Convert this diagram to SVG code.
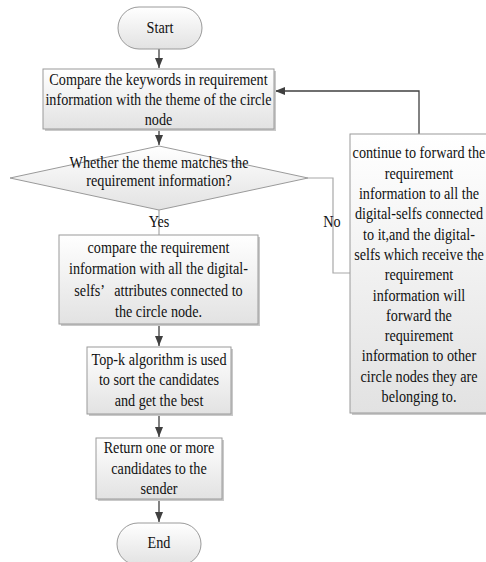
<svg xmlns="http://www.w3.org/2000/svg" width="486" height="562" viewBox="0 0 486 562">
<defs>
<linearGradient id="g" x1="0" y1="0" x2="0" y2="1">
<stop offset="0" stop-color="#ffffff"/>
<stop offset="1" stop-color="#e2e2e2"/>
</linearGradient>
<marker id="ah" markerUnits="userSpaceOnUse" markerWidth="10" markerHeight="10" refX="10" refY="4" orient="auto">
<path d="M0,0 L10,4 L0,8 Z" fill="#404040"/>
</marker>
</defs>
<style>
.box{fill:url(#g);stroke:#9a9a9a;stroke-width:1}
.sh{fill:#c9c9c9}
.t{font-family:"Liberation Serif","Times New Roman",serif;font-size:17px;fill:#111;text-anchor:middle}
.c{fill:none;stroke:#404040;stroke-width:1.3}
.cl{fill:none;stroke:#a8a8a8;stroke-width:1.2}
</style>
<rect width="486" height="562" fill="#ffffff"/>
<g id="connectors">
<path class="c" d="M159,49 V68" marker-end="url(#ah)"/>
<path class="c" d="M159,129 V145" marker-end="url(#ah)"/>
<path class="cl" d="M159,210 V235"/>
<path class="c" d="M159,324 V346" marker-end="url(#ah)"/>
<path class="c" d="M159,414 V437" marker-end="url(#ah)"/>
<path class="c" d="M159,499 V522" marker-end="url(#ah)"/>
<path class="cl" d="M308,178 H333 V273 H350"/>
<path class="c" d="M419,134 V91 H275" marker-end="url(#ah)"/>
</g>
<g id="start">
<rect class="box" x="118" y="7" width="84" height="42" rx="21" ry="21"/>
<text class="t" transform="translate(160 0) scale(0.835 1)" x="0" y="33">Start</text>
</g>
<g id="compare-keywords">
<rect class="sh" x="45" y="71" width="231" height="60"/>
<rect class="box" x="43" y="69" width="231" height="60"/>
<text class="t" transform="translate(158.5 0) scale(0.835 1)"><tspan x="0" y="85">Compare the keywords in requirement</tspan><tspan x="0" y="105">information with the theme of the circle</tspan><tspan x="0" y="125">node</tspan></text>
</g>
<g id="decision">
<polygon class="box" points="10,178 159,146 308,178 159,210"/>
<text class="t" transform="translate(159 0) scale(0.835 1)"><tspan x="0" y="168">Whether the theme matches the</tspan><tspan x="0" y="186.5">requirement information?</tspan></text>
</g>
<g id="label-yes">
<text class="t" transform="translate(159 0) scale(0.835 1)" x="0" y="227">Yes</text>
</g>
<g id="label-no">
<text class="t" transform="translate(332 0) scale(0.835 1)" x="0" y="227">No</text>
</g>
<g id="compare-attributes">
<rect class="sh" x="61" y="237" width="199" height="89"/>
<rect class="box" x="59" y="235" width="199" height="89"/>
<text class="t" transform="translate(158.5 0) scale(0.835 1)"><tspan x="0" y="253">compare the requirement</tspan><tspan x="0" y="274.3">information with all the digital-</tspan><tspan x="0" y="295.6">selfs’ <tspan dx="8">attributes connected to</tspan></tspan><tspan x="0" y="317">the circle node.</tspan></text>
</g>
<g id="topk">
<rect class="sh" x="89" y="349" width="144" height="67"/>
<rect class="box" x="87" y="347" width="144" height="67"/>
<text class="t" transform="translate(159 0) scale(0.835 1)"><tspan x="0" y="365">Top-k algorithm is used</tspan><tspan x="0" y="385.5">to sort the candidates</tspan><tspan x="0" y="406">and get the best</tspan></text>
</g>
<g id="return">
<rect class="sh" x="98" y="440" width="126" height="61"/>
<rect class="box" x="96" y="438" width="126" height="61"/>
<text class="t" transform="translate(159 0) scale(0.835 1)"><tspan x="0" y="453.5">Return one or more</tspan><tspan x="0" y="474">candidates to the</tspan><tspan x="0" y="494.5">sender</tspan></text>
</g>
<g id="end">
<rect class="box" x="117" y="523" width="84" height="42" rx="21" ry="21"/>
<text class="t" transform="translate(159 0) scale(0.835 1)" x="0" y="548">End</text>
</g>
<g id="forward">
<rect class="sh" x="352" y="136" width="138" height="279"/>
<rect class="box" x="350" y="134" width="138" height="279"/>
<text class="t" transform="translate(419 0) scale(0.835 1)"><tspan x="0" y="158.5">continue to forward the</tspan><tspan x="0" y="178.8">requirement</tspan><tspan x="0" y="199.1">information to all the</tspan><tspan x="0" y="219.4">digital-selfs connected</tspan><tspan x="0" y="239.7">to it,and the digital-</tspan><tspan x="0" y="260">selfs which receive the</tspan><tspan x="0" y="280.3">requirement</tspan><tspan x="0" y="300.6">information will</tspan><tspan x="0" y="320.9">forward the</tspan><tspan x="0" y="341.2">requirement</tspan><tspan x="0" y="361.5">information to other</tspan><tspan x="0" y="381.8">circle nodes they are</tspan><tspan x="0" y="402.1">belonging to.</tspan></text>
</g>
</svg>
